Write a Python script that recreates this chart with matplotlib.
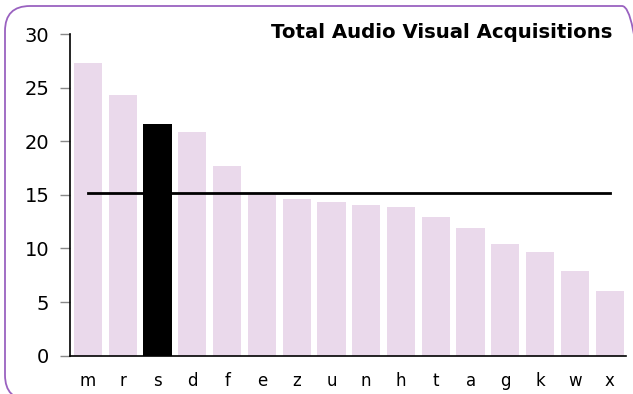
import numpy as np
import matplotlib
matplotlib.use('Agg')
import matplotlib.pyplot as plt
from matplotlib.patches import FancyBboxPatch

# acquisitions per library, sorted high to low
libraries = ['m', 'r', 's', 'd', 'f', 'e', 'z', 'u', 'n', 'h', 't', 'a', 'g', 'k', 'w', 'x']
acquisitions = [27.3, 24.3, 21.6, 20.9, 17.7, 15.0, 14.6, 14.3, 14.1, 13.9, 12.9, 11.9, 10.4, 9.65, 7.9, 6.05]
highlight = 's'
yticks = [0, 5, 10, 15, 20, 25, 30]

average = np.mean(acquisitions)

fig = plt.figure(figsize=(6.33, 3.94), dpi=100)

# rounded frame round the whole chart (runs off the right and bottom edges)
frame = FancyBboxPatch((0.05, -0.06), 6.42, 3.94,
                       boxstyle='round,pad=0,rounding_size=0.25',
                       transform=fig.dpi_scale_trans, facecolor='none',
                       edgecolor='#9A62C0', linewidth=1.3)
fig.patches.append(frame)

ax = fig.add_axes([0.111, 0.0972, 0.878, 0.8165])
ax.patch.set_alpha(0)

x = np.arange(len(libraries))
colors = ['black' if lib == highlight else '#EAD9EB' for lib in libraries]
ax.bar(x, acquisitions, width=0.81, color=colors, zorder=1)
ax.plot([x[0], x[-1]], [average, average], color='black', linewidth=2, zorder=3)

ax.set_xlim(-0.51, 15.47)
ax.set_ylim(0, 30)
ax.set_yticks(yticks)
ax.set_xticks(x)
ax.set_xticklabels(libraries)
ax.tick_params(axis='y', labelsize=14, length=7, width=1, color='#888888', pad=8)
ax.tick_params(axis='x', labelsize=12, length=0, pad=12)

for side in ['top', 'right']:
    ax.spines[side].set_visible(False)
ax.spines['left'].set_linewidth(1.2)
ax.spines['bottom'].set_linewidth(1.2)

fig.text(0.967, 0.918, 'Total Audio Visual Acquisitions', ha='right', va='center',
         fontsize=14.2, fontweight='bold')

fig.savefig('out.png', dpi=100)
